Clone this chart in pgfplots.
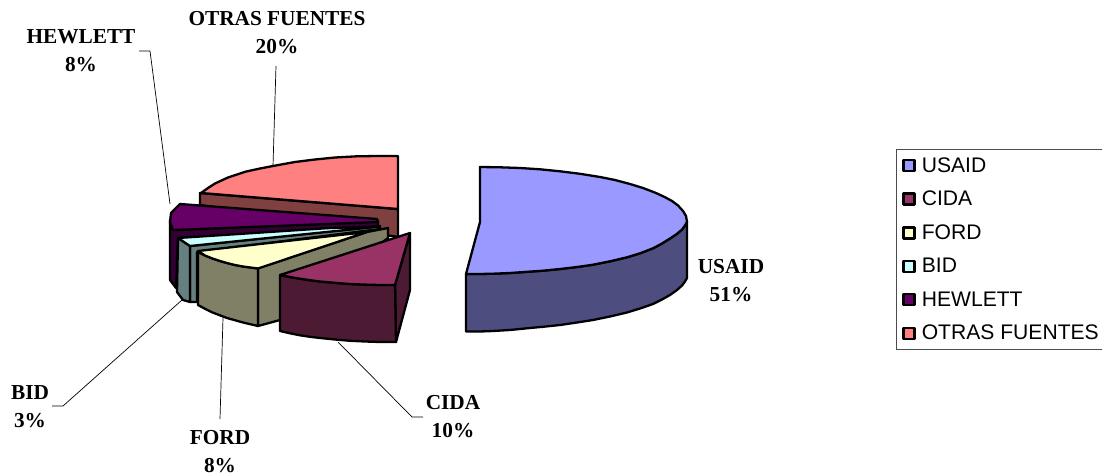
\documentclass[border=0pt]{standalone}
\usepackage{fontspec}
\setmainfont{Liberation Serif}
\newfontfamily\legendfont{Liberation Sans}
\usepackage{pgfplots}
\pgfplotsset{compat=1.18}
% excel 3D pie colours, top face and darker side face
\definecolor{usaidtop}{HTML}{9999FF}\definecolor{usaidside}{HTML}{4D4D80}
\definecolor{cidatop}{HTML}{993366}\definecolor{cidaside}{HTML}{4D1A33}
\definecolor{fordtop}{HTML}{FFFFCC}\definecolor{fordside}{HTML}{808066}
\definecolor{bidtop}{HTML}{CCFFFF}\definecolor{bidside}{HTML}{668080}
\definecolor{hewtop}{HTML}{660066}\definecolor{hewside}{HTML}{330033}
\definecolor{otrastop}{HTML}{FF8080}\definecolor{otrasside}{HTML}{804040}
\tikzset{
  slice/.style={draw=black,line width=2.3pt,line join=round},
  leader/.style={draw=black,line width=0.7pt},
  lab/.style={font=\fontsize{21.3}{28}\selectfont\bfseries,align=center,inner sep=0pt},
}
\begin{document}
\begin{tikzpicture}
% hide axis drops the axis box from the page size, so fix it here
\path[use as bounding box] (0,0) rectangle (1102pt,476pt);
\begin{axis}[
  at={(0,0)},anchor=south west,
  scale only axis,width=1102pt,height=476pt,
  xmin=0,xmax=1102,ymin=0,ymax=476,y dir=reverse,
  hide axis,clip=false,
  reverse legend,
  legend cell align=left,
  legend style={at={(axis cs:896,149)},anchor=north west,draw=black!70,line width=0.8pt,
    font=\legendfont\fontsize{21.1}{24}\selectfont,inner xsep=6pt,inner ysep=6pt,
    row sep=13.4pt},
  legend image code/.code={\draw[#1,line width=2.5pt,line join=round] (0pt,-5.5pt) rectangle (11pt,5.5pt);\path (15pt,0pt);},
]
% leader lines
\addplot[leader,forget plot] coordinates {(276,66) (273,166)};
\addplot[leader,forget plot] coordinates {(139,51) (150,51) (170,204)};
\addplot[leader,forget plot] coordinates {(52,406) (63,406) (182,300)};
\addplot[leader,forget plot] coordinates {(220,419) (223,318)};
\addplot[leader,forget plot] coordinates {(423,417) (412,417) (338,342)};

% OTRAS FUENTES 20%
\addplot[slice,fill=otrasside,forget plot] coordinates {(200,193) (398,209) (398,237) (200,205)} --cycle;
\addplot[slice,fill=otrastop] coordinates {(201,193) (208,188) (215,183.5) (228,177.5) (245,171.8) (260,168.5) (273,166) (295,162) (315,159.5) (335,157.5) (357,156.3) (378,156) (398,156) (398,209)} --cycle;
\addlegendentry{OTRAS FUENTES}

% HEWLETT 8%
\addplot[slice,fill=hewside,forget plot] coordinates {(170,220) (170,280) (176,288) (178,238) (378,227) (378,221) (173,230)} --cycle;
\addplot[slice,fill=hewtop] coordinates {(180,204) (377,219) (378,222) (173,230) (170,222) (171,213)} --cycle;
\addlegendentry{HEWLETT}

% BID 3%
\addplot[slice,fill=bidside,forget plot] coordinates {(190,246) (380,226) (380,229) (197,252) (197,302) (190,302)} --cycle;
\addplot[slice,fill=bidside,forget plot] coordinates {(178,238) (190,246) (190,302) (183,300) (177,292)} --cycle;
\addplot[slice,fill=bidtop] coordinates {(178,238) (330,228) (380,226.5) (190,246)} --cycle;
\addlegendentry{BID}

% FORD 8%
\addplot[slice,fill=fordside,forget plot] coordinates {(258,268) (367,232) (388,228) (388,238) (280,320) (258,326)} --cycle;
\addplot[slice,fill=fordside,forget plot] coordinates {(198,252) (205,255.5) (212,258.3) (220,261) (227,263) (235,265) (243,266.5) (258,268.5) (258,326) (243,322.5) (227,318) (212,312.3) (205,308.8) (198,305)} --cycle;
\addplot[slice,fill=fordtop] coordinates {(198,251) (367,232) (258,268.5) (243,266.5) (235,265) (227,263) (220,261) (212,258.3) (205,255.5)} --cycle;
\addlegendentry{FORD}

% CIDA 10%
\addplot[slice,fill=cidaside,forget plot] coordinates {(395,285) (410,233) (410,290) (396,342)} --cycle;
\addplot[slice,fill=cidaside,forget plot] coordinates {(280,275) (290,277) (300,278.7) (310,280.2) (320,281.5) (337,283) (350,284) (365,284.6) (380,285) (395,285) (396,342) (380,342) (365,341.5) (350,340.8) (337,339.7) (320,338) (310,336.8) (300,335.3) (290,333.3) (280,331)} --cycle;
\addplot[slice,fill=cidatop] coordinates {(280,275) (290,277) (300,278.7) (310,280.2) (320,281.5) (337,283) (350,284) (365,284.6) (380,285) (395,285) (410,233)} --cycle;
\addlegendentry{CIDA}

% USAID 51%
\addplot[slice,fill=usaidside,forget plot] coordinates {(466,274) (480,274) (493,273.7) (510,273) (527,271.8) (543,270.7) (560,269) (577,267) (593,264.7) (610,261.3) (627,257.3) (640,253.3) (653,248.3) (662,243.5) (670,238.5) (677,233.8) (682,229.5) (685,225.5) (687,221.7) (687,278) (685,281.5) (682,285.5) (677,290) (670,295) (662,299.5) (653,304) (640,308.5) (627,312.5) (610,316.5) (593,320) (577,322.5) (560,325) (543,326.8) (527,328.3) (510,330) (493,331) (480,331.5) (466,331.5)} --cycle;
\addplot[slice,fill=usaidtop] coordinates {(480,167) (500,167.3) (520,168) (540,169.3) (560,171.3) (580,173.8) (600,177) (615,180) (630,184) (643,188) (655,192.6) (664,196.7) (672,201) (678,205.5) (683,211) (686,216) (687,221.7) (685,225.5) (682,229.5) (677,233.8) (670,238.5) (662,243.5) (653,248.3) (640,253.3) (627,257.3) (610,261.3) (593,264.7) (577,267) (560,269) (543,270.7) (527,271.8) (510,273) (493,273.7) (480,274) (466,274) (480,222)} --cycle;
\addlegendentry{USAID}

% data labels
\node[lab] at (axis cs:277,33) {OTRAS FUENTES\\20\%};
\node[lab] at (axis cs:81,51) {HEWLETT\\8\%};
\node[lab] at (axis cs:731,281) {USAID\\51\%};
\node[lab] at (axis cs:453,417) {CIDA\\10\%};
\node[lab] at (axis cs:220,452) {FORD\\8\%};
\node[lab] at (axis cs:30,407) {BID\\3\%};
\end{axis}
\end{tikzpicture}
\end{document}
